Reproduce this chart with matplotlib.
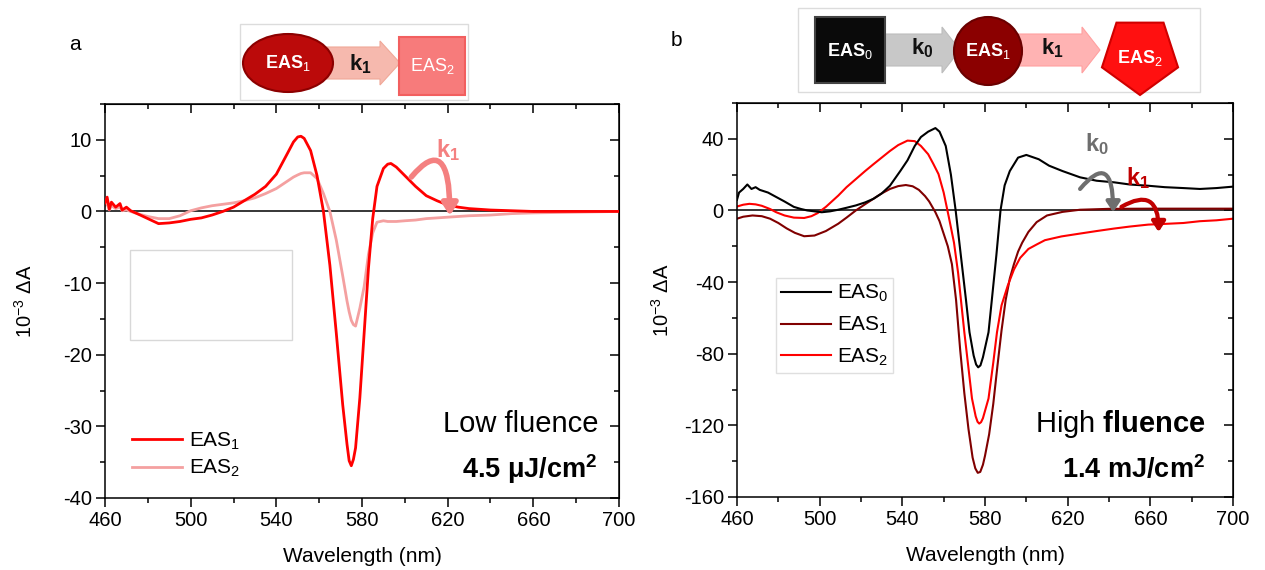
import matplotlib.pyplot as plt
from matplotlib.patches import FancyArrow, Ellipse, Circle, Rectangle, RegularPolygon
from matplotlib.ticker import MultipleLocator

plt.rcParams['font.family'] = ['Liberation Sans', 'DejaVu Sans']
plt.rcParams['mathtext.fontset'] = 'custom'
plt.rcParams['mathtext.rm'] = 'Liberation Sans'
plt.rcParams['mathtext.it'] = 'Liberation Sans'
plt.rcParams['mathtext.bf'] = 'Liberation Sans:bold'
plt.rcParams['axes.unicode_minus'] = False

# ---------------- panel a (low fluence) ----------------
wl_a = [460, 461, 462, 463, 465, 467, 468, 470, 472, 475, 480, 485, 490, 495, 500, 505, 510,
        515, 520, 525, 530, 535, 540, 545, 548, 550, 551.5, 553, 556, 559, 562, 565, 568, 571, 573,
        574, 575, 576, 577, 579, 581, 583, 585, 587, 590, 592, 593.5, 596, 600, 605, 610, 615, 620, 625,
        630, 640, 650, 660, 680, 700]
eas1_a = [1.2, 2.0, 0.3, 1.3, 0.6, 1.1, 0.2, 0.6, 0.1, -0.3, -1.0, -1.7, -1.6, -1.4, -1.1, -0.9, -0.5,
          0.0, 0.6, 1.5, 2.4, 3.5, 5.2, 8.0, 9.7, 10.4, 10.5, 10.2, 8.5, 5.0, 0.0, -7.5, -17.0, -27.0, -32.5,
          -34.8, -35.5, -34.6, -33.0, -26.0, -17.0, -8.0, -1.0, 3.5, 6.0, 6.6, 6.7, 6.2, 5.0, 3.5, 2.2, 1.5, 0.9, 0.6,
          0.4, 0.2, 0.1, 0.0, 0.0, 0.0]
eas2_a = [0.8, 1.2, 0.2, 0.8, 0.4, 0.6, 0.1, 0.2, 0.0, -0.3, -0.7, -1.0, -1.0, -0.6, 0.1, 0.5, 0.8,
          1.0, 1.2, 1.5, 1.9, 2.5, 3.2, 4.2, 4.8, 5.1, 5.3, 5.4, 5.4, 4.6, 2.5, 0.0, -4.0, -9.0, -12.5,
          -14.0, -15.2, -15.8, -16.0, -13.5, -10.5, -6.0, -3.0, -1.5, -1.3, -1.4, -1.4, -1.4, -1.3, -1.2, -1.0, -0.9, -0.8, -0.7,
          -0.6, -0.5, -0.3, -0.2, -0.1, 0.0]

# ---------------- panel b (high fluence) ----------------
wl_b0 = [460, 461, 463, 465, 467, 469, 471, 475, 479, 483, 487.5, 491, 494, 497.5,
         501, 505, 509, 513, 517.5, 522, 526, 530, 534, 539, 542.5, 546, 549, 552.5,
         556, 558, 561, 563.5, 565.8, 568, 570.8, 572.5, 574.5, 575.7, 576.7, 577.8, 579, 581.7, 583.3, 585.5,
         587.5, 589.5, 592, 596, 600, 606, 611, 617.5, 626, 634, 642.5, 650, 659, 667,
         676, 684, 692, 700]
eas0_b = [6.0, 10.0, 12.0, 14.5, 12.0, 13.0, 11.5, 10.0, 7.5, 5.0, 2.0, 0.8, 0.0, -0.5,
          -1.0, -0.5, 0.4, 1.5, 2.8, 4.5, 6.5, 9.5, 13.8, 22.0, 28.0, 36.0, 41.0, 44.0,
          46.0, 44.0, 36.0, 20.0, 0.0, -22.0, -50.0, -68.0, -81.0, -86.0, -87.6, -86.5, -82.0, -68.0, -50.0, -25.0,
          0.0, 14.0, 22.0, 29.5, 31.0, 28.6, 25.0, 22.0, 18.5, 16.6, 15.7, 14.5, 13.8, 13.0,
          12.5, 12.0, 12.5, 13.3]

wl_b1 = [460, 463, 467.5, 472, 476, 480, 484, 488, 492.5, 497.5, 503, 509, 513, 517.5,
         522, 526, 530, 534, 538, 541.7, 545, 548, 551, 553, 556, 558, 560, 562,
         564, 566, 568, 570, 572, 574, 575.3, 576.5, 577.7, 579, 580, 582, 584, 586, 588, 590,
         592, 594, 596, 598, 601, 605, 610, 617.5, 626, 640, 660, 680, 700]
eas1_b = [-4.6, -3.5, -2.8, -3.2, -4.6, -7.0, -10.0, -12.5, -14.4, -14.0, -11.5, -7.4, -4.0, 0.0,
          3.5, 6.5, 9.5, 12.0, 13.6, 14.2, 13.5, 11.5, 8.0, 5.0, -1.0, -6.0, -13.0, -20.0,
          -30.0, -50.0, -78.0, -102.0, -122.0, -138.0, -144.0, -146.5, -146.0, -142.0, -137.0, -125.0, -108.0, -87.0, -67.0, -50.0,
          -38.0, -30.0, -23.0, -18.0, -12.0, -6.5, -2.8, -0.8, 0.4, 0.9, 1.0, 1.0, 1.0]

wl_b2 = [460, 463, 466, 469, 472, 476, 479, 483, 487.5, 492.5, 496, 499, 503, 509,
         513, 517.5, 522, 526, 530, 534, 538, 542.5, 546, 549, 552.5, 555, 557.5, 560,
         562.5, 565, 567, 570, 572, 573.7, 575.5, 576.4, 577.2, 578.1, 579, 581.7, 584, 585.8, 588, 591,
         594, 597, 601, 605, 609, 617, 626, 634, 642.5, 650, 659, 667, 676, 684,
         692, 700]
eas2_b = [2.2, 3.2, 3.7, 3.4, 2.6, 0.8, -1.0, -2.8, -4.0, -4.2, -3.2, -1.5, 2.0, 8.3,
          13.0, 17.5, 22.0, 25.8, 29.5, 33.2, 36.5, 39.0, 38.7, 36.0, 31.4, 26.0, 20.3, 10.0,
          -3.7, -18.0, -35.0, -68.0, -88.0, -105.0, -115.0, -118.0, -119.0, -118.2, -116.0, -105.0, -85.0, -68.0, -53.0, -42.0,
          -33.0, -26.5, -21.5, -19.0, -16.6, -14.5, -12.9, -11.5, -10.1, -9.0, -7.9, -7.5, -7.0, -6.0,
          -5.5, -4.6]

fig = plt.figure(figsize=(12.65, 5.7), dpi=100)
ax1 = fig.add_axes([105 / 1265, 72 / 570, 514 / 1265, 394 / 570])
ax2 = fig.add_axes([737 / 1265, 73 / 570, 496 / 1265, 394 / 570])


def style_axes(ax, ymaj, ymin):
    ax.set_xlim(460, 700)
    ax.xaxis.set_major_locator(MultipleLocator(40, offset=20))
    ax.xaxis.set_minor_locator(MultipleLocator(20))
    ax.yaxis.set_major_locator(MultipleLocator(ymaj))
    ax.yaxis.set_minor_locator(MultipleLocator(ymin))
    ax.tick_params(which='major', direction='out', length=6.5, width=1.1, labelsize=14.5,
                   colors='black', pad=3)
    ax.tick_params(which='minor', direction='out', length=3.5, width=1.1)
    for s in ax.spines.values():
        s.set_linewidth(1.1)
    # inner ticks on the top and right frame
    top = ax.secondary_xaxis('top')
    top.xaxis.set_major_locator(MultipleLocator(40, offset=20))
    top.xaxis.set_minor_locator(MultipleLocator(20))
    top.tick_params(which='both', direction='in', labeltop=False, width=1.1)
    top.tick_params(which='major', length=6.5)
    top.tick_params(which='minor', length=3.5)
    right = ax.secondary_yaxis('right')
    right.yaxis.set_major_locator(MultipleLocator(ymaj))
    right.yaxis.set_minor_locator(MultipleLocator(ymin))
    right.tick_params(which='both', direction='in', labelright=False, width=1.1)
    right.tick_params(which='major', length=6.5)
    right.tick_params(which='minor', length=3.5)
    ax.axhline(0, color='black', lw=1.1, zorder=1)
    ax.set_xlabel('Wavelength (nm)', fontsize=15, labelpad=12)
    ax.set_ylabel(r'10$^{-3}$ ΔA', fontsize=14.5)


# ---- panel a ----
ax1.plot(wl_a, eas1_a, color='#ff0000', lw=2.0, label=r'EAS$_1$', zorder=3)
ax1.plot(wl_a, eas2_a, color='#f4a0a0', lw=2.0, label=r'EAS$_2$', zorder=2)
ax1.set_ylim(-40, 15)
style_axes(ax1, 10, 5)
ax1.yaxis.set_label_coords(-0.135, 0.5)
ax1.add_patch(Rectangle((0.049, 0.401), 0.315, 0.228, transform=ax1.transAxes,
                        fill=False, edgecolor='#d8d8d8', lw=1.0))
ax1.legend(loc='lower left', bbox_to_anchor=(0.017, 0.0), frameon=False, fontsize=15,
           handlelength=2.4, handletextpad=0.3, labelspacing=0.3)
ax1.text(0.960, 0.168, 'Low fluence', transform=ax1.transAxes, ha='right', va='baseline', fontsize=21)
ax1.text(0.958, 0.05, r'4.5 μJ/cm$^\mathbf{2}$', transform=ax1.transAxes, ha='right', va='baseline',
         fontsize=19.5, fontweight='bold')
ax1.annotate('', xy=(621, -0.6), xytext=(603, 4.8),
             arrowprops=dict(arrowstyle='-|>,head_length=0.7,head_width=0.45', color='#f48080',
                             lw=4, connectionstyle='angle3,angleA=50,angleB=90', shrinkA=0, shrinkB=0))
ax1.text(620, 8.6, r'$\mathbf{k_1}$', color='#f48080', fontsize=17, ha='center', va='center')
fig.text(75 / 1265, 1 - 45 / 570, 'a', fontsize=15, ha='center', va='center')

# ---- panel b ----
ax2.plot(wl_b0, eas0_b, color='black', lw=1.5, label=r'EAS$_0$', zorder=3)
ax2.plot(wl_b1, eas1_b, color='#800000', lw=1.5, label=r'EAS$_1$', zorder=2)
ax2.plot(wl_b2, eas2_b, color='#ff0000', lw=1.5, label=r'EAS$_2$', zorder=2)
ax2.set_ylim(-160, 60)
style_axes(ax2, 40, 20)
ax2.yaxis.set_label_coords(-0.129, 0.5)
leg = ax2.legend(loc='upper left', bbox_to_anchor=(0.079, 0.556), fontsize=15, fancybox=False,
                 edgecolor='#d8d8d8', handlelength=2.4, handletextpad=0.25, labelspacing=0.5,
                 borderpad=0.25, borderaxespad=0)
leg.get_frame().set_linewidth(1.0)
ax2.text(0.946, 0.165, r'High $\mathbf{fluence}$', transform=ax2.transAxes, ha='right', va='baseline',
         fontsize=21)
ax2.text(0.944, 0.048, r'1.4 mJ/cm$^\mathbf{2}$', transform=ax2.transAxes, ha='right', va='baseline',
         fontsize=19.5, fontweight='bold')
ax2.annotate('', xy=(642, -1), xytext=(626, 12),
             arrowprops=dict(arrowstyle='-|>,head_length=0.6,head_width=0.4', color='#6e6e6e',
                             lw=3, connectionstyle='angle3,angleA=50,angleB=90', shrinkA=0, shrinkB=0))
ax2.text(634, 37, r'$\mathbf{k_0}$', color='#6e6e6e', fontsize=17, ha='center', va='center')
ax2.annotate('', xy=(664, -12), xytext=(646, 2),
             arrowprops=dict(arrowstyle='-|>,head_length=0.6,head_width=0.4', color='#c00000',
                             lw=3, connectionstyle='angle3,angleA=30,angleB=90', shrinkA=0, shrinkB=0))
ax2.text(654, 18, r'$\mathbf{k_1}$', color='#c00000', fontsize=17, ha='center', va='center')
fig.text(676 / 1265, 1 - 40 / 570, 'b', fontsize=15, ha='center', va='center')

# ---------------- kinetic schemes (pixel overlay) ----------------
ov = fig.add_axes([0, 0, 1, 1], zorder=5)
ov.set_xlim(0, 1265)
ov.set_ylim(570, 0)
ov.set_axis_off()
ov.patch.set_alpha(0)

# scheme a
ov.add_patch(Rectangle((240, 24), 228, 76, facecolor='white', edgecolor='#dcdcdc', lw=1))
ov.add_patch(FancyArrow(318, 63, 82, 0, width=32, head_width=44, head_length=20,
                        length_includes_head=True, facecolor='#f6b9ae', edgecolor='#f0a898', lw=0.8))
ov.add_patch(Rectangle((399, 37), 66, 58, facecolor='#f77b7b', edgecolor='#f25f5f', lw=1.5))
ov.add_patch(Ellipse((288, 63), 90, 58, facecolor='#bb0a0a', edgecolor='#8c0000', lw=1.5))
ov.text(288, 63, r'EAS$_1$', color='white', fontsize=13, ha='center', va='center', fontweight='bold')
ov.text(360, 64, r'$\mathbf{k_1}$', color='#111111', fontsize=16, ha='center', va='center')
ov.text(432, 66, r'EAS$_2$', color='white', fontsize=13, ha='center', va='center')

# scheme b
ov.add_patch(Rectangle((798, 8), 402, 84, facecolor='white', edgecolor='#dcdcdc', lw=1))
ov.add_patch(FancyArrow(884, 50, 76, 0, width=32, head_width=46, head_length=18,
                        length_includes_head=True, facecolor='#c8c8c8', edgecolor='#bdbdbd', lw=0.8))
ov.add_patch(FancyArrow(1018, 50, 82, 0, width=32, head_width=46, head_length=18,
                        length_includes_head=True, facecolor='#ffb3b3', edgecolor='#ffa0a0', lw=0.8))
ov.add_patch(Rectangle((815, 17), 70, 66, facecolor='#0a0a0a', edgecolor='#444444', lw=1.5))
ov.add_patch(Circle((988, 51), 34, facecolor='#8b0000', edgecolor='#6a0000', lw=1.5))
ov.add_patch(RegularPolygon((1140, 55), numVertices=5, radius=40, orientation=0,
                            facecolor='#ff1010', edgecolor='#d00000', lw=1.5))
ov.text(850, 51, r'EAS$_0$', color='white', fontsize=13, ha='center', va='center', fontweight='bold')
ov.text(922, 48, r'$\mathbf{k_0}$', color='#111111', fontsize=16, ha='center', va='center')
ov.text(988, 51, r'EAS$_1$', color='white', fontsize=13, ha='center', va='center', fontweight='bold')
ov.text(1052, 48, r'$\mathbf{k_1}$', color='#111111', fontsize=16, ha='center', va='center')
ov.text(1140, 58, r'EAS$_2$', color='white', fontsize=13, ha='center', va='center', fontweight='bold')

fig.savefig('out.png', dpi=100)
